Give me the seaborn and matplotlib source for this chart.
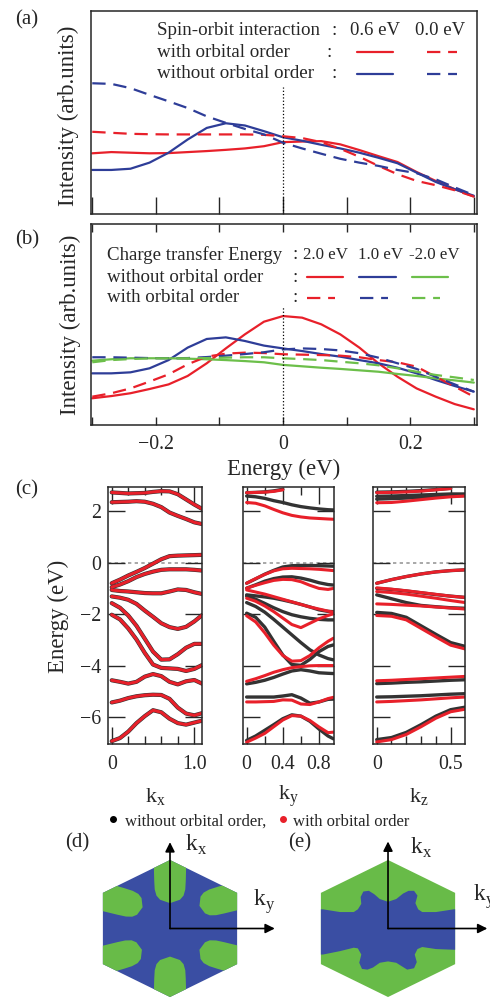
import numpy as np
import pandas as pd
import matplotlib
matplotlib.use('Agg')
import matplotlib.pyplot as plt
from matplotlib.patches import Polygon
from matplotlib.lines import Line2D
import seaborn as sns

sns.set_style('ticks')
plt.rcParams['font.family'] = ['Liberation Serif', 'DejaVu Serif']
plt.rcParams['mathtext.fontset'] = 'custom'
plt.rcParams['mathtext.rm'] = 'Liberation Serif'
plt.rcParams['axes.linewidth'] = 1.1

RED = '#e8202a'
BLUE = '#2e3d98'
GREEN = '#6cbf4a'
BLACK = '#333333'
FS_BLUE = '#3a4ea3'
FS_GREEN = '#68bb48'
nan = np.nan

# ---- (a), (b): spectra ----
energy = [-0.30, -0.27, -0.24, -0.21, -0.18, -0.15, -0.12, -0.09, -0.06, -0.03, 0.0,
          0.03, 0.06, 0.09, 0.12, 0.15, 0.18, 0.21, 0.24, 0.27, 0.30]

a_with_06 = [0.299, 0.305, 0.302, 0.299, 0.300, 0.305, 0.310, 0.316, 0.323, 0.334, 0.354,
             0.357, 0.359, 0.343, 0.315, 0.285, 0.256, 0.207, 0.163, 0.122, 0.086]
a_without_06 = [0.217, 0.217, 0.223, 0.253, 0.302, 0.367, 0.424, 0.447, 0.436, 0.408, 0.378,
                0.361, 0.341, 0.323, 0.302, 0.277, 0.250, 0.204, 0.158, 0.122, 0.090]
a_with_00 = [0.405, 0.400, 0.395, 0.393, 0.392, 0.392, 0.392, 0.392, 0.392, 0.390, 0.383,
             0.374, 0.354, 0.321, 0.282, 0.237, 0.196, 0.163, 0.142, 0.117, 0.086]
a_without_00 = [0.644, 0.641, 0.620, 0.587, 0.555, 0.522, 0.481, 0.449, 0.419, 0.392, 0.351,
                0.323, 0.297, 0.272, 0.253, 0.237, 0.217, 0.201, 0.171, 0.131, 0.093]

b_without_20 = [0.133, 0.144, 0.158, 0.179, 0.202, 0.244, 0.307, 0.381, 0.451, 0.514, 0.542,
                0.534, 0.501, 0.451, 0.385, 0.307, 0.240, 0.182, 0.141, 0.104, 0.078]
b_without_10 = [0.257, 0.257, 0.262, 0.282, 0.323, 0.385, 0.428, 0.436, 0.418, 0.395, 0.381,
                0.368, 0.353, 0.340, 0.323, 0.307, 0.285, 0.257, 0.224, 0.194, 0.166]
b_without_m20 = [0.320, 0.327, 0.332, 0.332, 0.332, 0.330, 0.327, 0.323, 0.318, 0.312, 0.299,
                 0.292, 0.285, 0.279, 0.272, 0.265, 0.254, 0.244, 0.232, 0.222, 0.211]
b_with_20 = [0.141, 0.158, 0.182, 0.216, 0.252, 0.302, 0.340, 0.355, 0.360, 0.358, 0.352,
             0.350, 0.348, 0.345, 0.337, 0.323, 0.312, 0.290, 0.240, 0.191, 0.141]
b_with_10 = [0.337, 0.337, 0.335, 0.333, 0.332, 0.333, 0.338, 0.345, 0.353, 0.362, 0.376,
             0.381, 0.378, 0.371, 0.357, 0.335, 0.307, 0.279, 0.240, 0.202, 0.166]
b_with_m20 = [0.312, 0.323, 0.328, 0.332, 0.332, 0.332, 0.333, 0.335, 0.337, 0.337, 0.332,
              0.328, 0.323, 0.315, 0.307, 0.297, 0.282, 0.265, 0.249, 0.237, 0.224]

# ---- (c): band structure ----
kx_grid = [0.0, 0.1, 0.2, 0.3, 0.4, 0.5, 0.6, 0.7, 0.8, 0.9, 1.0, 1.1]
kx_bands = [
    [2.72, 2.70, 2.68, 2.69, 2.70, 2.74, 2.77, 2.76, 2.65, 2.45, 2.25, 2.07],
    [2.34, 2.35, 2.36, 2.38, 2.36, 2.28, 2.15, 1.94, 1.81, 1.69, 1.56, 1.49],
    [-0.80, -0.66, -0.50, -0.36, -0.21, -0.04, 0.13, 0.25, 0.27, 0.28, 0.29, 0.30],
    [-0.95, -0.85, -0.72, -0.56, -0.44, -0.35, -0.28, -0.26, -0.26, -0.26, -0.28, -0.31],
    [-1.06, -1.10, -1.12, -1.15, -1.18, -1.19, -1.19, -1.12, -1.04, -1.06, -1.15, -1.22],
    [-1.31, -1.36, -1.44, -1.60, -1.86, -2.10, -2.35, -2.50, -2.57, -2.49, -2.28, -2.02],
    [-1.57, -1.75, -2.05, -2.45, -2.95, -3.45, -3.76, -3.75, -3.55, -3.30, -3.15, -3.15],
    [-2.02, -2.20, -2.55, -2.98, -3.50, -3.95, -4.08, -4.10, -4.12, -4.20, -4.12, -3.96],
    [-4.56, -4.62, -4.69, -4.62, -4.42, -4.32, -4.40, -4.62, -4.72, -4.60, -4.55, -4.70],
    [-5.42, -5.35, -5.25, -5.18, -5.14, -5.12, -5.13, -5.28, -5.62, -5.85, -5.92, -5.83],
    [-6.92, -6.80, -6.55, -6.22, -5.95, -5.72, -5.80, -6.05, -6.22, -6.28, -6.20, -6.12],
]

ky_grid = [0.0, 0.1, 0.2, 0.3, 0.4, 0.5, 0.6, 0.7, 0.8, 0.9, 0.96]
ky_red = [
    [2.71, 2.72, 2.73, 2.76, 2.82, nan, nan, nan, nan, nan, nan],
    [2.33, 2.30, 2.20, 2.06, 1.93, 1.83, 1.77, 1.73, 1.71, 1.69, 1.68],
    [-0.80, -0.62, -0.46, -0.32, -0.24, -0.22, -0.23, -0.24, -0.26, -0.29, -0.31],
    [-0.99, -0.88, -0.78, -0.69, -0.65, -0.66, -0.74, -0.88, -1.00, -1.04, -1.00],
    [-1.06, -1.14, -1.22, -1.32, -1.42, -1.52, -1.62, -1.72, -1.80, -1.88, -1.92],
    [-1.38, -1.50, -1.68, -1.90, -2.15, -2.40, -2.52, -2.35, -2.18, -2.05, -1.98],
    [-2.06, -2.30, -2.72, -3.20, -3.60, -3.82, -3.80, -3.60, -3.30, -3.05, -2.93],
    [-4.60, -4.50, -4.38, -4.25, -4.15, -4.07, -4.03, -4.00, -3.99, -3.99, -3.99],
    [-5.40, -5.40, -5.39, -5.38, -5.32, -5.33, -5.48, -5.50, -5.40, -5.27, -5.22],
    [-6.96, -6.80, -6.62, -6.36, -6.10, -5.93, -5.95, -6.12, -6.37, -6.59, -6.57],
]
ky_black = [
    [2.71, 2.72, 2.74, 2.78, 2.84, nan, nan, nan, nan, nan, nan],
    [2.58, 2.55, 2.49, 2.40, 2.33, 2.24, 2.17, 2.12, 2.08, 2.05, 2.04],
    [-0.80, -0.63, -0.45, -0.30, -0.17, -0.12, -0.11, -0.11, -0.12, -0.13, -0.14],
    [-0.99, -0.86, -0.72, -0.62, -0.56, -0.55, -0.60, -0.68, -0.78, -0.85, -0.87],
    [-1.25, -1.29, -1.33, -1.38, -1.45, -1.53, -1.62, -1.72, -1.83, -1.89, -1.90],
    [-1.30, -1.42, -1.58, -1.75, -1.90, -2.02, -2.10, -2.16, -2.20, -2.22, -2.22],
    [-1.55, -1.70, -1.92, -2.20, -2.50, -2.80, -3.10, -3.38, -3.58, -3.72, -3.77],
    [-1.96, -2.12, -2.50, -3.05, -3.58, -3.95, -3.98, -3.75, -3.45, -3.25, -3.19],
    [-4.70, -4.64, -4.56, -4.45, -4.32, -4.20, -4.15, -4.20, -4.27, -4.29, -4.30],
    [-5.21, -5.21, -5.21, -5.21, -5.17, -5.12, -5.25, -5.45, -5.40, -5.30, -5.29],
    [-6.89, -6.72, -6.50, -6.28, -6.05, -5.90, -5.95, -6.15, -6.45, -6.72, -6.83],
]

kz_grid = [0.0, 0.1, 0.2, 0.3, 0.4, 0.5, 0.6]
kz_red = [
    [2.71, 2.72, 2.74, 2.77, 2.82, 2.87, nan],
    [2.32, 2.33, 2.38, 2.44, 2.50, 2.55, 2.58],
    [-0.80, -0.66, -0.54, -0.44, -0.36, -0.31, -0.28],
    [-0.98, -1.03, -1.09, -1.16, -1.23, -1.30, -1.35],
    [-1.12, -1.16, -1.22, -1.30, -1.38, -1.47, -1.55],
    [-1.60, -1.62, -1.65, -1.68, -1.72, -1.76, -1.80],
    [-2.05, -2.08, -2.22, -2.55, -2.88, -3.20, -3.35],
    [-4.58, -4.56, -4.53, -4.50, -4.47, -4.44, -4.41],
    [-5.40, -5.38, -5.35, -5.32, -5.28, -5.24, -5.21],
    [-6.95, -6.86, -6.66, -6.36, -6.03, -5.78, -5.68],
]
kz_black = [
    [2.73, 2.74, 2.76, 2.79, 2.83, 2.88, nan],
    [2.57, 2.58, 2.60, 2.62, 2.64, 2.66, 2.66],
    [2.46, 2.48, 2.50, 2.53, 2.56, 2.58, 2.60],
    [-0.80, -0.66, -0.54, -0.44, -0.36, -0.31, -0.28],
    [-1.00, -1.04, -1.10, -1.17, -1.24, -1.30, -1.35],
    [-1.25, -1.40, -1.55, -1.66, -1.71, -1.75, -1.77],
    [-1.93, -1.97, -2.12, -2.45, -2.78, -3.10, -3.25],
    [-4.69, -4.67, -4.64, -4.62, -4.59, -4.56, -4.54],
    [-5.21, -5.20, -5.18, -5.16, -5.13, -5.10, -5.08],
    [-6.86, -6.78, -6.58, -6.28, -5.95, -5.70, -5.60],
]

# ---- (d), (e): Fermi surfaces ----
hex_x = [0.0, 0.98, 0.98, 0.0, -0.98, -0.98]
hex_y = [1.0, 0.52, -0.52, -1.0, -0.52, 0.52]

# green lobes of (d): tip position, direction, half width
d_lobe_tip_x = [0.0, 0.43, 0.43, 0.0, -0.41, -0.40]
d_lobe_tip_y = [0.37, 0.33, -0.31, -0.41, -0.31, 0.31]
d_lobe_dir = [90, 15, -15, 270, 195, 165]
d_lobe_halfwidth = [0.23, 0.20, 0.20, 0.23, 0.20, 0.20]
lobe_u = [1.6, 0.32, 0.20, 0.11, 0.05, 0.0, 0.05, 0.11, 0.20, 0.32, 1.6]
lobe_v = [-1.15, -1.0, -0.97, -0.86, -0.63, 0.0, 0.63, 0.86, 0.97, 1.0, 1.15]

# blue region of (e)
e_blue_x = [-1.1, -0.95, -0.70, -0.50, -0.44, -0.39, -0.40, -0.36, -0.28, -0.20, -0.12, 0.0,
            0.12, 0.22, 0.30, 0.38, 0.43, 0.40, 0.44, 0.50, 0.70, 0.96, 1.1,
            1.1, 0.96, 0.70, 0.50, 0.43, 0.39, 0.42, 0.38, 0.28, 0.20, 0.12, 0.0,
            -0.12, -0.22, -0.30, -0.38, -0.42, -0.39, -0.44, -0.50, -0.70, -0.95, -1.1]
e_blue_y = [0.28, 0.28, 0.24, 0.24, 0.28, 0.36, 0.46, 0.54, 0.55, 0.50, 0.43, 0.39,
            0.43, 0.51, 0.55, 0.55, 0.48, 0.37, 0.28, 0.24, 0.24, 0.28, 0.28,
            -0.31, -0.31, -0.30, -0.27, -0.30, -0.38, -0.49, -0.58, -0.60, -0.55, -0.50, -0.48,
            -0.50, -0.57, -0.60, -0.59, -0.50, -0.38, -0.29, -0.28, -0.33, -0.38, -0.38]

W, H = 490, 1001


def fx(px):
    return px / W


def fy(py):
    return 1 - py / H


def box(x0, y0, x1, y1):
    return [fx(x0), fy(y1), (x1 - x0) / W, (y1 - y0) / H]


fig = plt.figure(figsize=(4.9, 10.01), dpi=100)

# ---------- panel (a) ----------
dash = (0, (6, 3.5))
ax_a = fig.add_axes(box(91, 11, 477, 214))
for vals, col, ls in [(a_with_06, RED, '-'), (a_without_06, BLUE, '-'),
                      (a_with_00, RED, dash), (a_without_00, BLUE, dash)]:
    sns.lineplot(x=energy, y=vals, color=col, linestyle=ls, lw=1.6, ax=ax_a)
ax_a.axvline(0, ymin=0, ymax=0.628, color='black', ls=':', lw=0.9)

tr = ax_a.transAxes
ax_a.text(0.171, 0.903, 'Spin-orbit interaction', transform=tr, fontsize=13.7, va='center')
ax_a.text(0.624, 0.903, ':', transform=tr, fontsize=13.7, va='center')
ax_a.text(0.671, 0.903, '0.6 eV', transform=tr, fontsize=13.5, va='center')
ax_a.text(0.839, 0.903, '0.0 eV', transform=tr, fontsize=13.5, va='center')
ax_a.text(0.171, 0.798, 'with orbital order', transform=tr, fontsize=13.7, va='center')
ax_a.text(0.611, 0.798, ':', transform=tr, fontsize=13.7, va='center')
ax_a.text(0.171, 0.690, 'without orbital order', transform=tr, fontsize=13.7, va='center')
ax_a.text(0.624, 0.690, ':', transform=tr, fontsize=13.7, va='center')
ax_a.plot([0.689, 0.782], [0.798, 0.798], transform=tr, color=RED, lw=1.6)
ax_a.plot([0.870, 0.948], [0.798, 0.798], transform=tr, color=RED, lw=1.6, ls=dash)
ax_a.plot([0.689, 0.782], [0.690, 0.690], transform=tr, color=BLUE, lw=1.6)
ax_a.plot([0.870, 0.948], [0.690, 0.690], transform=tr, color=BLUE, lw=1.6, ls=dash)

# ---------- panel (b) ----------
ax_b = fig.add_axes(box(91, 224, 477, 425))
for vals, col, ls in [(b_without_20, RED, '-'), (b_without_10, BLUE, '-'),
                      (b_without_m20, GREEN, '-'), (b_with_20, RED, dash),
                      (b_with_10, BLUE, dash), (b_with_m20, GREEN, dash)]:
    sns.lineplot(x=energy, y=vals, color=col, linestyle=ls, lw=1.6, ax=ax_b)
ax_b.axvline(0, ymin=0, ymax=0.589, color='black', ls=':', lw=0.9)

tr = ax_b.transAxes
ax_b.text(0.041, 0.846, 'Charge transfer Energy', transform=tr, fontsize=13.6, va='center')
ax_b.text(0.041, 0.736, 'without orbital order', transform=tr, fontsize=13.6, va='center')
ax_b.text(0.041, 0.632, 'with orbital order', transform=tr, fontsize=13.6, va='center')
for yy in [0.846, 0.736, 0.632]:
    ax_b.text(0.521, yy, ':', transform=tr, fontsize=13.6, va='center')
ax_b.text(0.549, 0.846, '2.0 eV', transform=tr, fontsize=12.2, va='center')
ax_b.text(0.692, 0.846, '1.0 eV', transform=tr, fontsize=12.2, va='center')
ax_b.text(0.824, 0.846, '-2.0 eV', transform=tr, fontsize=12.2, va='center')
for (x0, x1), col in zip([(0.560, 0.653), (0.694, 0.790), (0.832, 0.925)], [RED, BLUE, GREEN]):
    ax_b.plot([x0, x1], [0.736, 0.736], transform=tr, color=col, lw=1.6)
for (x0, x1), col in zip([(0.560, 0.632), (0.697, 0.769), (0.832, 0.904)], [RED, BLUE, GREEN]):
    ax_b.plot([x0, x1], [0.632, 0.632], transform=tr, color=col, lw=1.6, ls=dash)

for ax, top, ln in [(ax_a, False, 12), (ax_b, True, 6)]:
    ax.set_xlim(-0.302, 0.305)
    ax.set_ylim(0, 1)
    ax.set_yticks([])
    ax.set_xticks([-0.3, -0.2, -0.1, 0.0, 0.1, 0.2, 0.3])
    ax.tick_params(axis='x', direction='in', length=ln, width=1.0, top=top,
                   labelsize=14.3, pad=7)
    ax.set_xlabel('')
    ax.set_ylabel('')
ax_a.set_xticklabels([])
ax_b.set_xticklabels(['', '\u22120.2', '', '0', '', '0.2', ''])

fig.text(fx(68), fy(116), 'Intensity (arb.units)', rotation=90, ha='center', va='center', fontsize=16.5)
fig.text(fx(70), fy(325), 'Intensity (arb.units)', rotation=90, ha='center', va='center', fontsize=16.5)
fig.text(fx(284), fy(469), 'Energy (eV)', ha='center', va='center', fontsize=16.5)

# ---------- panel (c) ----------


def band_frame(k, bands):
    rows = []
    for i, b in enumerate(bands):
        for kk, e in zip(k, b):
            if not np.isnan(e):
                rows.append((i, kk, e))
    return pd.DataFrame(rows, columns=['band', 'k', 'E'])


c_specs = [
    (box(108, 487, 202, 744), kx_grid, kx_bands, kx_bands, (-0.045, 1.093),
     [0, 1.0], ['0', '1.0'], [0.2, 0.4, 0.6, 0.8], r'k$_\mathrm{x}$'),
    (box(243, 487, 334, 744), ky_grid, ky_black, ky_red, (-0.04, 0.966),
     [0, 0.4, 0.8], ['0', '0.4', '0.8'], [0.2, 0.6], r'k$_\mathrm{y}$'),
    (box(373, 487, 465, 744), kz_grid, kz_black, kz_red, (-0.025, 0.597),
     [0, 0.5], ['0', '0.5'], [0.1, 0.2, 0.3, 0.4], r'k$_\mathrm{z}$'),
]
for i, (rect, kg, blk, red, xl, maj, majlab, mnr, klab) in enumerate(c_specs):
    ax = fig.add_axes(rect)
    sns.lineplot(data=band_frame(kg, blk), x='k', y='E', units='band', estimator=None,
                 color=BLACK, lw=3.0 if i == 0 else 2.4, ax=ax, legend=False)
    sns.lineplot(data=band_frame(kg, red), x='k', y='E', units='band', estimator=None,
                 color=RED, lw=2.2, ax=ax, legend=False)
    ax.axhline(0, color='#999999', ls=(0, (2, 2)), lw=1.2, zorder=0)
    ax.set_xlim(*xl)
    ax.set_ylim(-7.03, 2.93)
    ax.set_xticks(maj)
    ax.set_xticklabels(majlab)
    ax.set_xticks(mnr, minor=True)
    ax.set_yticks([-6, -4, -2, 0, 2])
    if i == 0:
        ax.set_yticklabels(['\u22126', '\u22124', '\u22122', '0', '2'])
    else:
        ax.set_yticklabels([])
    ax.tick_params(which='major', direction='in', length=12, width=1.0, top=True, right=True,
                   labelsize=14.3)
    ax.tick_params(which='minor', direction='in', length=6, width=1.0, top=True, right=True)
    ax.tick_params(axis='x', pad=8)
    ax.tick_params(axis='y', pad=5)
    ax.set_xlabel('')
    ax.set_ylabel('')
    ax.text(0.5, -0.206, klab, transform=ax.transAxes, ha='center', va='center', fontsize=16)

fig.text(fx(58), fy(616), 'Energy (eV)', rotation=90, ha='center', va='center', fontsize=16.5)

# legend line below (c)
fig.add_artist(Line2D([fx(113)], [fy(819)], marker='o', ms=4, color='black', transform=fig.transFigure))
fig.add_artist(Line2D([fx(283)], [fy(819)], marker='o', ms=4, color=RED, mec=RED, transform=fig.transFigure))
fig.text(fx(125), fy(822), 'without orbital order,', ha='left', va='center', fontsize=12)
fig.text(fx(293), fy(822), 'with orbital order', ha='left', va='center', fontsize=12)

# ---------- panels (d), (e) ----------
ax_d = fig.add_axes(box(90, 836, 290, 1001))
ax_d.set_xlim(-1.168, 1.752)
ax_d.set_ylim(-1.058, 1.350)
hex_d = Polygon(np.column_stack([hex_x, hex_y]), closed=True, facecolor=FS_BLUE, edgecolor='none')
ax_d.add_patch(hex_d)
for tx, ty, ang, hw in zip(d_lobe_tip_x, d_lobe_tip_y, d_lobe_dir, d_lobe_halfwidth):
    th = np.deg2rad(ang)
    u = np.array(lobe_u)
    v = np.array(lobe_v) * hw
    px = tx + u * np.cos(th) - v * np.sin(th)
    py = ty + u * np.sin(th) + v * np.cos(th)
    lobe = Polygon(np.column_stack([px, py]), closed=True, facecolor=FS_GREEN, edgecolor='none')
    ax_d.add_patch(lobe)
    lobe.set_clip_path(hex_d)

ax_e = fig.add_axes(box(300, 836, 490, 1001))
ax_e.set_xlim(-1.285, 1.489)
ax_e.set_ylim(-1.058, 1.350)
hex_e = Polygon(np.column_stack([hex_x, hex_y]), closed=True, facecolor=FS_GREEN, edgecolor='none')
ax_e.add_patch(hex_e)
blue_e = Polygon(np.column_stack([e_blue_x, e_blue_y]), closed=True, facecolor=FS_BLUE, edgecolor='none')
ax_e.add_patch(blue_e)
blue_e.set_clip_path(hex_e)

arrow = dict(arrowstyle='-|>', color='black', lw=1.2, mutation_scale=14, shrinkA=0, shrinkB=0)
ax_d.annotate('', xy=(0, 1.26), xytext=(0, 0), arrowprops=arrow)
ax_d.annotate('', xy=(1.53, 0), xytext=(0, 0), arrowprops=arrow)
ax_d.text(0.22, 1.22, r'k$_\mathrm{x}$', fontsize=17, va='center', ha='left')
ax_d.text(1.21, 0.39, r'k$_\mathrm{y}$', fontsize=17, va='center', ha='left')
ax_e.annotate('', xy=(0, 1.27), xytext=(0, 0), arrowprops=arrow)
ax_e.annotate('', xy=(1.45, 0), xytext=(0, 0), arrowprops=arrow)
ax_e.text(0.32, 1.18, r'k$_\mathrm{x}$', fontsize=17, va='center', ha='left')
ax_e.text(1.24, 0.46, r'k$_\mathrm{y}$', fontsize=17, va='center', ha='left', clip_on=False)
for ax in (ax_d, ax_e):
    ax.axis('off')

for lab, (px, py) in [('(a)', (27, 20)), ('(b)', (27, 240)), ('(c)', (27, 490)),
                      ('(d)', (77, 843)), ('(e)', (300, 843))]:
    fig.text(fx(px), fy(py), lab, ha='center', va='center', fontsize=15)

fig.savefig('out.png', dpi=100)
